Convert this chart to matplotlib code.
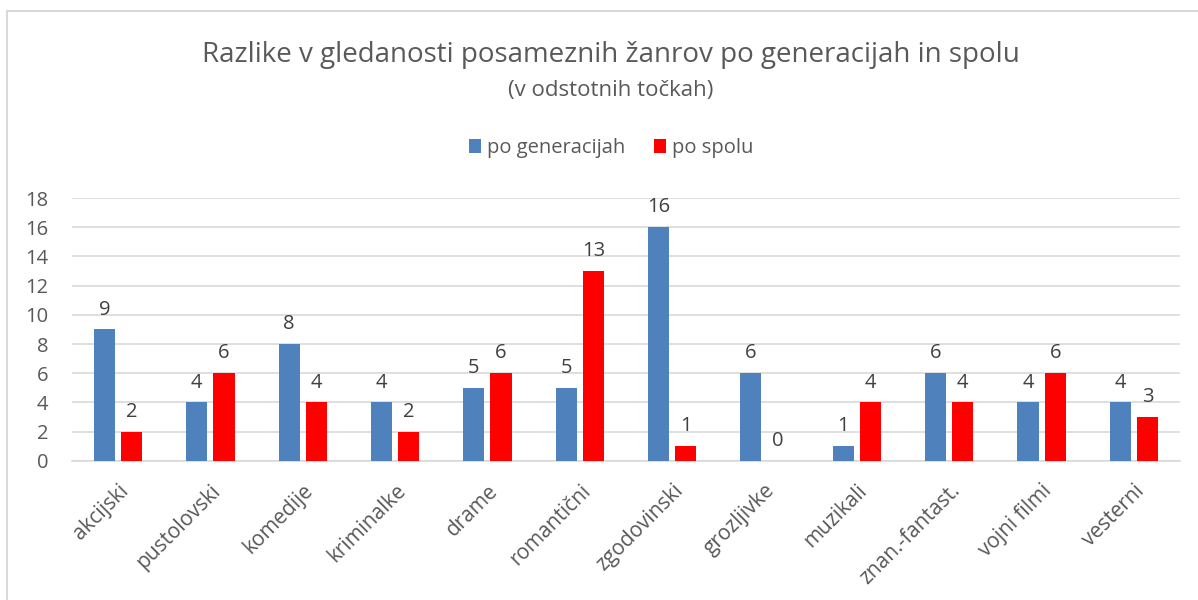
import matplotlib
matplotlib.use("Agg")
import matplotlib.pyplot as plt
from matplotlib.patches import Rectangle
import numpy as np

categories = ["akcijski", "pustolovski", "komedije", "kriminalke", "drame", "romantični",
              "zgodovinski", "grozljivke", "muzikali", "znan.-fantast.", "vojni filmi", "vesterni"]
po_generacijah = [9, 4, 8, 4, 5, 5, 16, 6, 1, 6, 4, 4]
po_spolu = [2, 6, 4, 2, 6, 13, 1, 0, 4, 4, 6, 3]
yticks = [0, 2, 4, 6, 8, 10, 12, 14, 16, 18]

plt.rcParams['font.family'] = ['Open Sans', 'DejaVu Sans']
txt = '#595959'

fig = plt.figure(figsize=(11.98, 6.0), dpi=100)
fig.patches.append(Rectangle((0.0058, -0.1), 1.2, 1.0817, transform=fig.transFigure,
                             fill=False, edgecolor='#d9d9d9', linewidth=1.5))
ax = fig.add_axes([0.060, 0.232, 0.925, 0.438])

x = np.arange(len(categories))
w = 0.23
g = 0.065
b1 = ax.bar(x - (w + g) / 2, po_generacijah, w, color='#4f81bd', label='po generacijah', zorder=3)
b2 = ax.bar(x + (w + g) / 2, po_spolu, w, color='#ff0000', label='po spolu', zorder=3)
for bars in (b1, b2):
    ax.bar_label(bars, padding=7, fontsize=14.5, color='#404040')

ax.set_xlim(-0.5, len(categories) - 0.5)
ax.set_ylim(0, 18)
ax.set_yticks(yticks)
ax.yaxis.grid(True, color='#d9d9d9', linewidth=1.2, zorder=0)
ax.set_axisbelow(True)
for s in ['top', 'right', 'left']:
    ax.spines[s].set_visible(False)
ax.spines['bottom'].set_color('#d9d9d9')
ax.spines['bottom'].set_linewidth(1.2)
ax.tick_params(axis='both', length=0, labelsize=14.5, colors=txt)
ax.tick_params(axis='y', pad=17)
ax.set_xticks(x)
ax.set_xticklabels(categories, rotation=45, ha='right', rotation_mode='anchor', fontsize=15)
ax.tick_params(axis='x', pad=14)

fig.text(0.51, 0.908, "Razlike v gledanosti posameznih žanrov po generacijah in spolu",
         ha='center', va='center', fontsize=20, color=txt)
fig.text(0.51, 0.849, "(v odstotnih točkah)", ha='center', va='center', fontsize=16, color=txt)
fig.legend(handles=[b1, b2], loc='center', bbox_to_anchor=(0.51, 0.753), ncol=2, frameon=False,
           fontsize=14.5, labelcolor=txt, handlelength=0.6, handleheight=0.7, handletextpad=0.3,
           columnspacing=1.4)

fig.savefig("out.png", dpi=100)
